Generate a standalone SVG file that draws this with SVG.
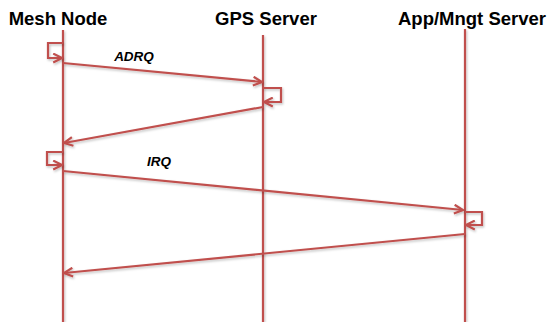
<svg xmlns="http://www.w3.org/2000/svg" width="550" height="322" viewBox="0 0 550 322">
<style>
.title{font-family:"Liberation Sans",Arial,sans-serif;font-weight:bold;font-size:18.5px;fill:#000;text-anchor:middle}
.lbl{font-family:"Liberation Sans",Arial,sans-serif;font-weight:bold;font-style:italic;font-size:13.5px;fill:#000;text-anchor:middle}
.life{stroke:#C0504D;stroke-width:2.2;fill:none}
.msg{stroke:#C0504D;stroke-width:2.2;fill:none;marker-end:url(#arr)}
</style>
<defs>
<marker id="arr" viewBox="0 0 10 10" refX="9" refY="5" markerWidth="5" markerHeight="5" orient="auto" markerUnits="strokeWidth">
<path d="M1,1 L9,5 L1,9" fill="none" stroke="#C0504D" stroke-width="2"/>
</marker>
<filter id="sh" filterUnits="userSpaceOnUse" x="0" y="0" width="550" height="322">
<feDropShadow dx="1" dy="1.5" stdDeviation="1" flood-color="#000" flood-opacity="0.25"/>
</filter>
</defs>
<g id="mesh-node">
<text class="title" x="58" y="25">Mesh Node</text>
<line class="life" x1="63" y1="30" x2="63" y2="322" filter="url(#sh)"/>
</g>
<g id="gps-server">
<text class="title" x="266" y="25">GPS Server</text>
<line class="life" x1="263" y1="35" x2="263" y2="322" filter="url(#sh)"/>
</g>
<g id="app-server">
<text class="title" x="472" y="25">App/Mngt Server</text>
<line class="life" x1="465" y1="29" x2="465" y2="322" filter="url(#sh)"/>
</g>
<g id="connectors" filter="url(#sh)">
<path class="msg" d="M63,43 H48 V58 H62"/>
<path class="msg" d="M63,63 L262,82"/>
<path class="msg" d="M263,88 H281 V102 H264"/>
<path class="msg" d="M263,107 L64,143"/>
<path class="msg" d="M63,152 H47 V165 H62"/>
<path class="msg" d="M63,171 L463,210"/>
<path class="msg" d="M465,212 H482 V225 H466"/>
<path class="msg" d="M465,234 L64,273"/>
</g>
<text class="lbl" x="134" y="61">ADRQ</text>
<text class="lbl" x="159" y="166">IRQ</text>
</svg>
